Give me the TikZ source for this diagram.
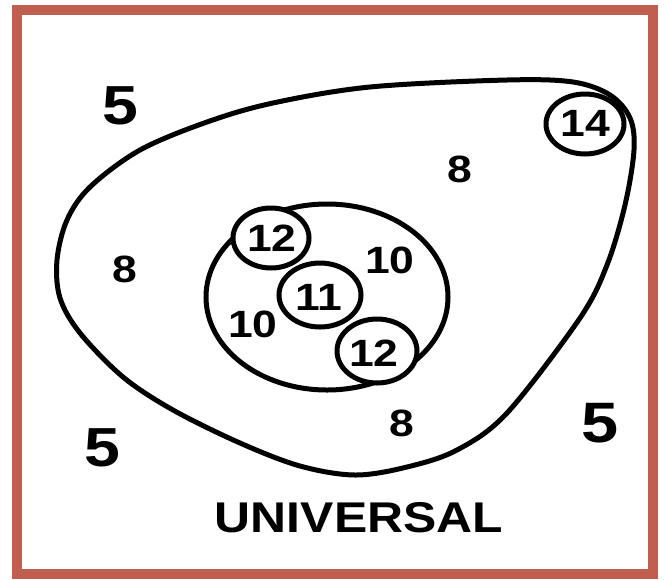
\documentclass[tikz,border=0pt]{standalone}
\usepackage{fontspec}
\setmainfont{Liberation Sans}
\definecolor{framec}{RGB}{192,94,80}
\newcommand{\wtext}[2]{\fontsize{#1}{#1}\selectfont\bfseries\scalebox{1.17}[1]{#2}}
\begin{document}
\begin{tikzpicture}[x=1pt,y=-1pt,
  ln/.style={line width=5pt,black},
  big/.style={inner sep=0pt,font=\fontsize{56}{56}\selectfont\bfseries},
  mid/.style={inner sep=0pt}]
\useasboundingbox (0,0) rectangle (666,579);
\fill[white] (0,0) rectangle (666,579);
\draw[framec,line width=10pt] (17,10) rectangle (653,574);
% outer egg
\draw[ln] plot[smooth cycle,tension=0.55] coordinates {
 (370,87) (507,80) (573,82) (610,95) (630,118) (634,150) (625,205) (607,265)
 (580,318) (507,413) (457,450) (407,467) (355,475) (300,466) (240,443) (173,410)
 (123,377) (80,333) (60,298) (57,260) (67,220) (90,187) (140,150) (207,122) (273,103)};
% inner ellipse
\draw[ln] (327,297) ellipse [x radius=121pt,y radius=93pt];
% small circles
\draw[ln,fill=white] (585,124) ellipse [x radius=39pt,y radius=30pt];
\draw[ln,fill=white] (271,238) ellipse [x radius=38pt,y radius=30pt];
\draw[ln,fill=white] (320,295) ellipse [x radius=41pt,y radius=32pt];
\draw[ln,fill=white] (377,351) ellipse [x radius=40pt,y radius=32pt];
% labels
\node[mid] (c14) at (585,123) {\wtext{38}{14}};
\node[mid] (c12a) at (272,238) {\wtext{38}{12}};
\node[mid] (c11) at (319,297) {\wtext{38}{11}};
\node[mid] (c12b) at (374,353) {\wtext{38}{12}};
\node[mid] (t10a) at (390,260) {\wtext{38}{10}};
\node[mid] (t10b) at (253,324) {\wtext{38}{10}};
\node[mid] (e8a) at (125,269) {\wtext{38}{8}};
\node[mid] (e8b) at (460,169) {\wtext{38}{8}};
\node[mid] (e8c) at (402,423) {\wtext{38}{8}};
\node[mid] (f5a) at (120,106) {\wtext{55}{5}};
\node[mid] (f5b) at (102,448) {\wtext{55}{5}};
\node[mid] (f5c) at (600,423) {\wtext{57}{5}};
\node[mid] (uni) at (359,518) {\fontsize{43}{43}\selectfont\bfseries\scalebox{1.16}[1]{UNIVERSAL}};
\end{tikzpicture}
\end{document}
